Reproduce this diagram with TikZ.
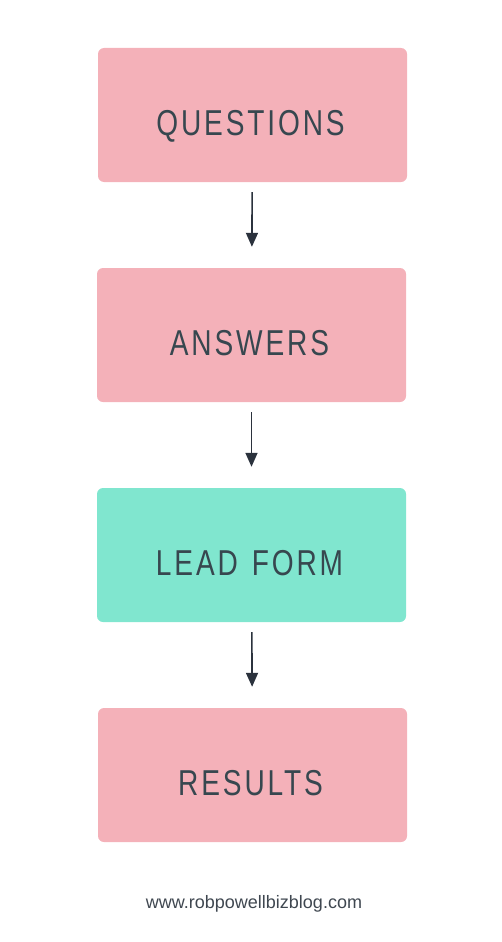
\documentclass[tikz,border=0pt]{standalone}
\usepackage{fontspec}
\setmainfont{Liberation Sans}
\newfontfamily\boxfont[FakeStretch=0.78,LetterSpace=8,WordSpace=1.3]{Liberation Sans}
\usetikzlibrary{arrows.meta}
\definecolor{boxpink}{HTML}{F4B1B9}
\definecolor{boxteal}{HTML}{80E6CF}
\definecolor{textgrey}{HTML}{37474F}
\definecolor{arrowgrey}{HTML}{2B323D}
\definecolor{footgrey}{HTML}{3F4750}

\begin{document}
\begin{tikzpicture}[x=1pt,y=-1pt,
  stepbox/.style={rounded corners=6pt, minimum width=309pt, minimum height=134pt,
    inner sep=0pt, text height=40pt, text depth=0pt, text=textgrey,
    font=\boxfont\fontsize{36}{40}\selectfont},
  flow/.style={draw=arrowgrey, line width=1.6pt, shorten <=10pt, shorten >=21pt,
    -{Triangle[length=14pt,width=12pt]}}]
\useasboundingbox (0,0) rectangle (502,942);

% steps
\node[stepbox, fill=boxpink] (questions) at (252.5,115) {QUESTIONS\hspace*{4pt}};
\node[stepbox, fill=boxpink] (answers) at (251.5,335) {ANSWERS\hspace*{4pt}};
\node[stepbox, fill=boxteal] (leadform) at (251.5,555) {LEAD FORM\hspace*{4pt}};
\node[stepbox, fill=boxpink] (results) at (252.5,775) {RESULTS\hspace*{4pt}};

% arrows
\draw[flow] (questions) -- (answers);
\draw[flow] (answers) -- (leadform);
\draw[flow] (leadform) -- (results);

\node[anchor=base, text=footgrey, font=\fontsize{18}{20}\selectfont] (site) at (254,908) {www.robpowellbizblog.com};

\end{tikzpicture}
\end{document}
